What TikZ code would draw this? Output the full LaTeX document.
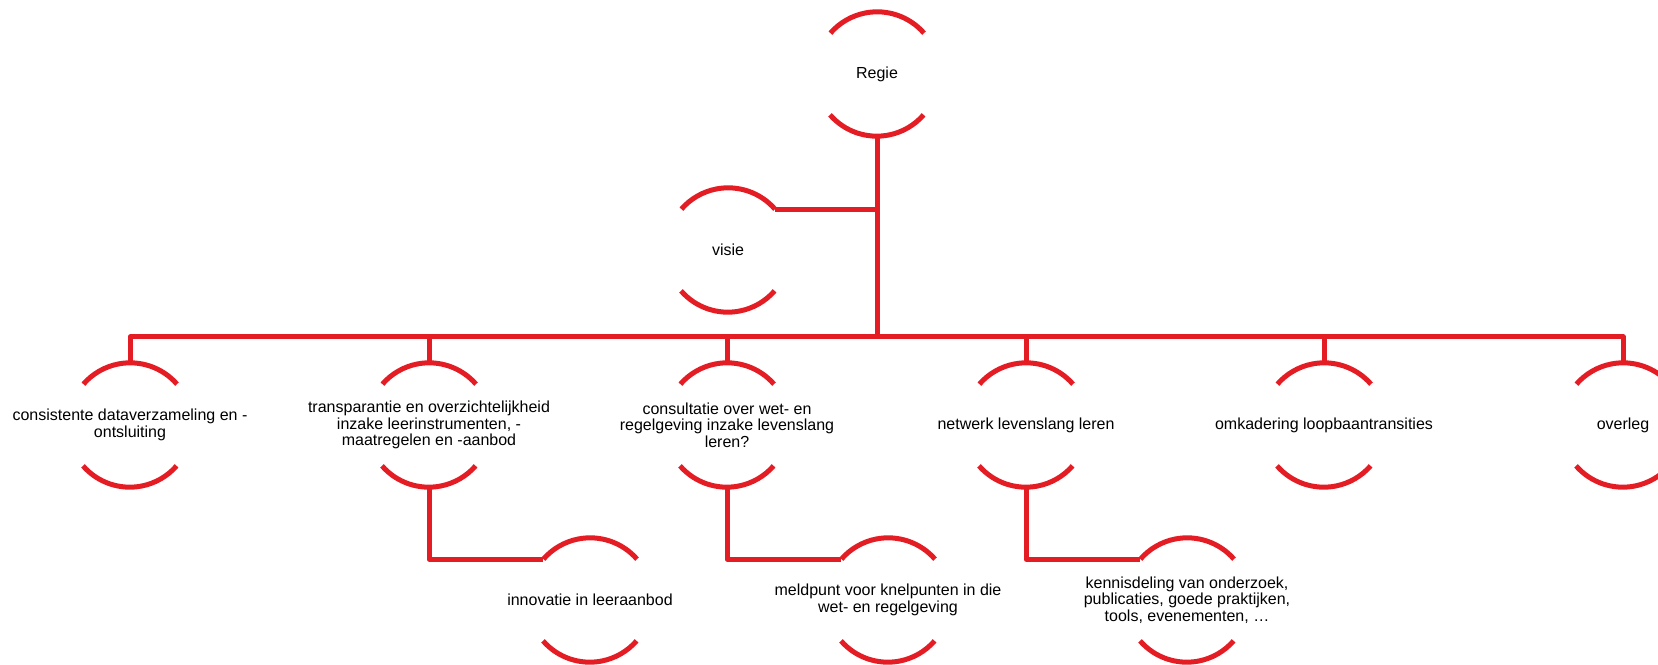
\documentclass[tikz,border=0pt]{standalone}
\usepackage{fontspec}
\setmainfont{Liberation Sans}
\definecolor{ringred}{RGB}{228,29,36}

\begin{document}
\begin{tikzpicture}[x=0.75pt,y=0.75pt,
  ring/.style={circle,minimum size=93pt,inner sep=0pt},
  txt/.style={align=center,inner sep=0pt,font=\fontsize{12pt}{12.5pt}\selectfont,text=black},
  redline/.style={draw=ringred,line width=3.75pt,line join=round}]
\useasboundingbox (0,0) rectangle (1658,664);

\node[ring,label={[txt]center:Regie}] (regie) at (877,590) {};
\node[ring,label={[txt]center:visie}] (visie) at (728,414) {};
\coordinate (bus) at (877,327);

\node[ring,label={[txt]center:{consistente dataverzameling en -\\ontsluiting}}] (cons) at (130,239) {};
\node[ring,label={[txt]center:{transparantie en overzichtelijkheid\\inzake leerinstrumenten, -\\maatregelen en -aanbod}}] (transp) at (429,239) {};
\node[ring,label={[txt]center:{consultatie over wet- en\\regelgeving inzake levenslang\\leren?}}] (consult) at (727,239) {};
\node[ring,label={[txt]center:netwerk levenslang leren}] (netwerk) at (1026,239) {};
\node[ring,label={[txt]center:omkadering loopbaantransities}] (omkad) at (1324,239) {};
\node[ring,label={[txt]center:overleg}] (overleg) at (1623,239) {};

\node[ring,label={[txt]center:innovatie in leeraanbod}] (innov) at (590,64) {};
\node[ring,label={[txt]center:{meldpunt voor knelpunten in die\\wet- en regelgeving}}] (meld) at (888,64) {};
\node[ring,label={[txt]center:{kennisdeling van onderzoek,\\publicaties, goede praktijken,\\tools, evenementen, …}}] (kennis) at (1187,64) {};

% rings
\draw[redline] (regie.41) arc[start angle=41,end angle=139,radius=46.5pt];
\draw[redline] (regie.221) arc[start angle=221,end angle=319,radius=46.5pt];
\draw[redline] (visie.41) arc[start angle=41,end angle=139,radius=46.5pt];
\draw[redline] (visie.221) arc[start angle=221,end angle=319,radius=46.5pt];
\draw[redline] (cons.41) arc[start angle=41,end angle=139,radius=46.5pt];
\draw[redline] (cons.221) arc[start angle=221,end angle=319,radius=46.5pt];
\draw[redline] (transp.41) arc[start angle=41,end angle=139,radius=46.5pt];
\draw[redline] (transp.221) arc[start angle=221,end angle=319,radius=46.5pt];
\draw[redline] (consult.41) arc[start angle=41,end angle=139,radius=46.5pt];
\draw[redline] (consult.221) arc[start angle=221,end angle=319,radius=46.5pt];
\draw[redline] (netwerk.41) arc[start angle=41,end angle=139,radius=46.5pt];
\draw[redline] (netwerk.221) arc[start angle=221,end angle=319,radius=46.5pt];
\draw[redline] (omkad.41) arc[start angle=41,end angle=139,radius=46.5pt];
\draw[redline] (omkad.221) arc[start angle=221,end angle=319,radius=46.5pt];
\draw[redline] (overleg.41) arc[start angle=41,end angle=139,radius=46.5pt];
\draw[redline] (overleg.221) arc[start angle=221,end angle=319,radius=46.5pt];
\draw[redline] (innov.41) arc[start angle=41,end angle=139,radius=46.5pt];
\draw[redline] (innov.221) arc[start angle=221,end angle=319,radius=46.5pt];
\draw[redline] (meld.41) arc[start angle=41,end angle=139,radius=46.5pt];
\draw[redline] (meld.221) arc[start angle=221,end angle=319,radius=46.5pt];
\draw[redline] (kennis.41) arc[start angle=41,end angle=139,radius=46.5pt];
\draw[redline] (kennis.221) arc[start angle=221,end angle=319,radius=46.5pt];

% connectors
\draw[redline] (regie.south) -- (bus);
\draw[redline] (visie.41) -- (visie.41 -| regie.south);
\draw[redline] (bus) -| (cons.north);
\draw[redline] (bus) -| (transp.north);
\draw[redline] (bus) -| (consult.north);
\draw[redline] (bus) -| (netwerk.north);
\draw[redline] (bus) -| (omkad.north);
\draw[redline] (bus) -| (overleg.north);
\draw[redline] (transp.south) |- (innov.139);
\draw[redline] (consult.south) |- (meld.139);
\draw[redline] (netwerk.south) |- (kennis.139);

\end{tikzpicture}
\end{document}
